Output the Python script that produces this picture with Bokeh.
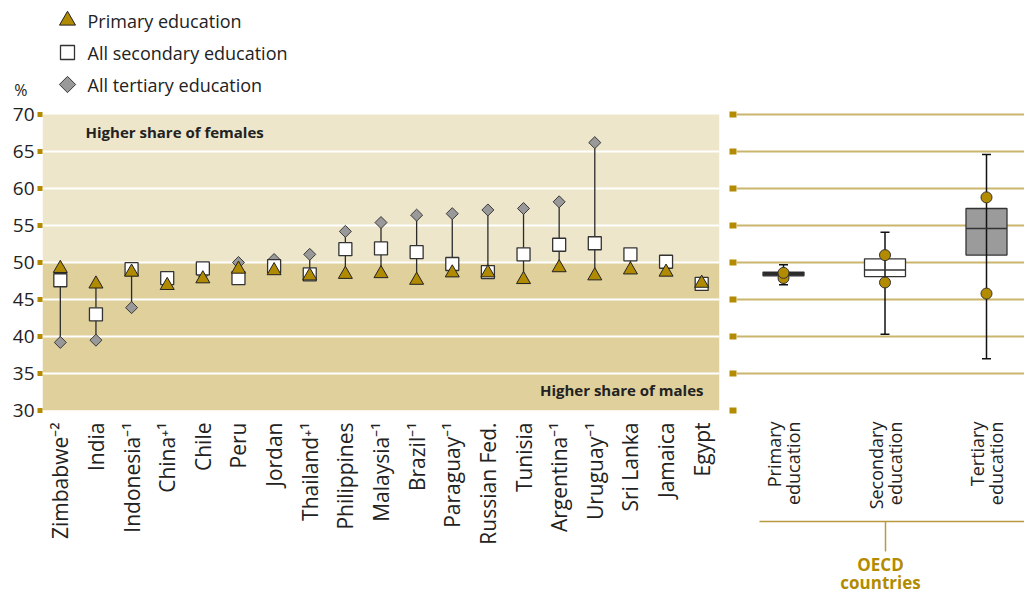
import math
import numpy as np
from bokeh.plotting import figure
from bokeh.models import Range1d, FixedTicker, Label, LinearAxis
from bokeh.layouts import row
from bokeh.embed import file_html
from bokeh.resources import INLINE
from bokeh.core.properties import value

# ---------------- data ----------------
countries = ["Zimbabwe\u207b\u00b2", "India", "Indonesia\u207b\u00b9", "China\u207a\u00b9", "Chile", "Peru",
             "Jordan", "Thailand\u207a\u00b9", "Philippines", "Malaysia\u207b\u00b9", "Brazil\u207b\u00b9",
             "Paraguay\u207b\u00b9", "Russian Fed.", "Tunisia", "Argentina\u207b\u00b9", "Uruguay\u207b\u00b9",
             "Sri Lanka", "Jamaica", "Egypt"]
primary = [49.2, 47.1, 48.7, 46.9, 47.8, 49.1, 48.9, 48.2, 48.4, 48.5, 47.6, 48.6, 48.6, 47.7, 49.3, 48.2, 49.0, 48.7, 47.2]
secondary = [47.6, 43.0, 49.1, 47.9, 49.2, 47.9, 49.5, 48.4, 51.8, 51.9, 51.4, 49.8, 48.7, 51.1, 52.4, 52.6, 51.1, 50.1, 47.1]
tertiary = [39.2, 39.5, 43.9, 47.5, 48.4, 50.0, 50.4, 51.1, 54.2, 55.4, 56.4, 56.6, 57.1, 57.3, 58.2, 66.2, np.nan, np.nan, np.nan]
y_ticks = [30, 35, 40, 45, 50, 55, 60, 65, 70]
legend_labels = ["Primary education", "All secondary education", "All tertiary education"]

oecd_levels = ["Primary\neducation", "Secondary\neducation", "Tertiary\neducation"]
whisker_low = [47.0, 40.3, 37.0]
box_q1 = [48.2, 48.1, 51.0]
box_median = [48.45, 49.0, 54.6]
box_q3 = [48.7, 50.5, 57.3]
whisker_high = [49.7, 54.1, 64.6]
oecd_dot_high = [48.6, 51.0, 58.8]
oecd_dot_low = [47.9, 47.3, 45.8]

# ---------------- style ----------------
FONT = "Open Sans"
GOLD = "#b38b00"
TRI_FILL = "#b08a00"
BAND_LIGHT = "#ede6cb"
BAND_DARK = "#dfd09c"
GRID_GOLD = "#cbb56e"
BRACKET = "#b8993f"
TEXT = "#222222"
BOX_FILL = ["#151515", "#ffffff", "#9b9b9b"]

PX_PER_UNIT = 7.4
FIG_H = 598
FRAME_BOTTOM = 410
Y_TOP = 30 + FRAME_BOTTOM / PX_PER_UNIT   # frame spans page y 0..410

n = len(countries)
xpos = np.arange(n)
PX_PER_CAT = 677 / n


def lx(px):  # page x -> left data x
    return -0.5 + (px - 42) / PX_PER_CAT


def ly(py):  # page y -> data y
    return 70 - (py - 114) / PX_PER_UNIT


# ---------------- left panel ----------------
p = figure(width=725, height=FIG_H, x_range=Range1d(-0.5, n - 0.5), y_range=Range1d(30, Y_TOP),
           output_backend="svg", toolbar_location=None, title=None,
           min_border_left=42, min_border_right=6, min_border_top=0, min_border_bottom=FIG_H - FRAME_BOTTOM)
p.outline_line_color = None

p.quad(left=-0.5, right=n - 0.5, bottom=[30, 50], top=[50, 70], fill_color=[BAND_DARK, BAND_LIGHT],
       line_color=None, level="image")
p.ygrid.ticker = FixedTicker(ticks=[35, 40, 45, 50, 55, 60, 65])
p.ygrid.grid_line_color = "white"
p.ygrid.grid_line_width = 2
p.xgrid.visible = False

lo = np.nanmin(np.vstack([primary, secondary, tertiary]), axis=0)
hi = np.nanmax(np.vstack([primary, secondary, tertiary]), axis=0)
p.segment(x0=xpos, y0=lo, x1=xpos, y1=hi, line_color="#2b2b2b", line_width=1.3)

p.scatter(x=xpos, y=tertiary, marker="square", angle=math.pi / 4, size=8.5,
          fill_color="#999999", line_color="#3a3a3a", line_width=1)
p.scatter(x=xpos, y=secondary, marker="square", size=13,
          fill_color="white", line_color="#333333", line_width=1.3)
p.scatter(x=xpos, y=primary, marker="triangle", size=14,
          fill_color=TRI_FILL, line_color="#222222", line_width=1)

# legend (manual)
leg_y = [ly(20), ly(52), ly(84)]
p.scatter(x=[lx(67)], y=[leg_y[0]], marker="triangle", size=16, fill_color=TRI_FILL, line_color="#222222")
p.scatter(x=[lx(67)], y=[leg_y[1]], marker="square", size=14, fill_color="white", line_color="#333333", line_width=1.3)
p.scatter(x=[lx(67)], y=[leg_y[2]], marker="square", angle=math.pi / 4, size=11.5,
          fill_color="#999999", line_color="#3a3a3a")
p.text(x=[lx(87)] * 3, y=leg_y, text=legend_labels, text_font=value(FONT), text_font_size="18px",
       text_color=TEXT, text_baseline="middle", text_align="left")

p.add_layout(Label(x=lx(85), y=ly(131), text="Higher share of females", text_font=FONT,
                   text_font_size="15px", text_font_style="bold", text_color=TEXT, text_baseline="middle"))
p.add_layout(Label(x=lx(703), y=ly(389), text="Higher share of males", text_font=FONT,
                   text_font_size="15px", text_font_style="bold", text_color=TEXT, text_baseline="middle",
                   text_align="right"))

ya = p.yaxis[0]
ya.ticker = FixedTicker(ticks=y_ticks)
ya.axis_line_color = None
ya.major_tick_in = 0
ya.major_tick_out = 5
ya.major_tick_line_width = 5
ya.major_tick_line_color = GOLD
ya.minor_tick_line_color = None
ya.major_label_standoff = 3
ya.major_label_text_font = FONT
ya.major_label_text_font_size = "19px"
ya.major_label_text_color = TEXT

# "%" unit marker: a second left axis carrying a single label
PCT_Y = ly(89)
pa = LinearAxis(ticker=FixedTicker(ticks=[PCT_Y]))
pa.major_label_overrides = {PCT_Y: "%"}
pa.axis_line_color = None
pa.major_tick_line_color = None
pa.major_tick_in = 0
pa.major_tick_out = 0
pa.minor_tick_line_color = None
pa.major_label_standoff = -18
pa.major_label_text_font = FONT
pa.major_label_text_font_size = "16px"
pa.major_label_text_color = TEXT
p.add_layout(pa, "left")

xa = p.xaxis[0]
xa.ticker = FixedTicker(ticks=list(xpos))
xa.major_label_overrides = {int(i): c for i, c in zip(xpos, countries)}
xa.major_label_orientation = math.pi / 2
xa.axis_line_color = None
xa.major_tick_line_color = None
xa.major_tick_out = 0
xa.major_tick_in = 0
xa.minor_tick_line_color = None
xa.major_label_standoff = 12
xa.major_label_text_font = FONT
xa.major_label_text_font_size = "21px"
xa.major_label_text_color = TEXT

# ---------------- right panel (OECD) ----------------
R_LEFT, R_RIGHT, C0, CSTEP = 736, 1024, 783, 101.5


def rx(px):
    return (px - C0) / CSTEP


opos = list(range(len(oecd_levels)))
q = figure(width=1024 - 725, height=FIG_H, x_range=Range1d(rx(R_LEFT), rx(R_RIGHT)), y_range=Range1d(30, Y_TOP),
           output_backend="svg", toolbar_location=None, title=None,
           min_border_left=R_LEFT - 725, min_border_right=0, min_border_top=0,
           min_border_bottom=FIG_H - FRAME_BOTTOM)
q.outline_line_color = None
q.xgrid.visible = False
q.ygrid.ticker = FixedTicker(ticks=y_ticks)
q.ygrid.grid_line_color = GRID_GOLD
q.ygrid.grid_line_width = 2

qa = q.yaxis[0]
qa.ticker = FixedTicker(ticks=y_ticks)
qa.major_label_overrides = {t: "" for t in y_ticks}
qa.major_label_standoff = 0
qa.axis_line_color = None
qa.major_tick_in = 0
qa.major_tick_out = 7
qa.major_tick_line_width = 6
qa.major_tick_line_color = GOLD
qa.minor_tick_line_color = None

# category labels: each of the two lines of a label is its own vertical tick label
LINE_GAP = 9.5 / CSTEP
label_ticks, label_texts = [], []
for i, lab in zip(opos, oecd_levels):
    first, second = lab.split("\n")
    label_ticks += [i - LINE_GAP, i + LINE_GAP]
    label_texts += [first, second]

qx = q.xaxis[0]
qx.ticker = FixedTicker(ticks=label_ticks)
qx.major_label_overrides = dict(zip(label_ticks, label_texts))
qx.major_label_orientation = math.pi / 2
qx.axis_line_color = None
qx.major_tick_line_color = None
qx.major_tick_out = 0
qx.major_tick_in = 0
qx.minor_tick_line_color = None
qx.major_label_standoff = 11
qx.major_label_text_font = FONT
qx.major_label_text_font_size = "18px"
qx.major_label_text_color = TEXT
qx.axis_label = "\u00a0"
qx.axis_label_standoff = 0
qx.axis_label_text_font_size = "6px"

# bracket axis "OECD countries"
bx = LinearAxis(ticker=FixedTicker(ticks=[1]), bounds=(rx(759), rx(R_RIGHT)))
bx.major_label_overrides = {1: ""}
bx.major_label_standoff = 0
bx.axis_line_color = BRACKET
bx.axis_line_width = 1.5
bx.major_tick_line_color = BRACKET
bx.major_tick_line_width = 1.5
bx.major_tick_in = 0
bx.major_tick_out = 30
bx.minor_tick_line_color = None
bx.axis_label = "OECD\ncountries"
bx.axis_label_standoff = 1
bx.axis_label_text_font = FONT
bx.axis_label_text_font_size = "17px"
bx.axis_label_text_font_style = "bold"
bx.axis_label_text_color = GOLD
bx.axis_label_text_line_height = 0.8
q.add_layout(bx, "below")

box_w = 41 / CSTEP
q.vbar(x=opos, width=box_w, bottom=box_q1, top=box_q3, fill_color=BOX_FILL, line_color="#333333", line_width=1.3)
q.segment(x0=opos, y0=whisker_low, x1=opos, y1=whisker_high, line_color="#111111", line_width=1.5)
q.scatter(x=opos, y=whisker_low, marker="dash", size=9, line_color="#111111", line_width=1.5)
q.scatter(x=opos, y=whisker_high, marker="dash", size=9, line_color="#111111", line_width=1.5)
q.scatter(x=opos, y=box_median, marker="dash", size=41, line_color="#333333", line_width=1.5)
q.scatter(x=opos, y=oecd_dot_low, marker="circle", size=11, fill_color=GOLD, line_color="#333333", line_width=1)
q.scatter(x=opos, y=oecd_dot_high, marker="circle", size=11, fill_color=GOLD, line_color="#333333", line_width=1)

layout = row(p, q)
open("out.html", "w").write(file_html(layout, INLINE))
